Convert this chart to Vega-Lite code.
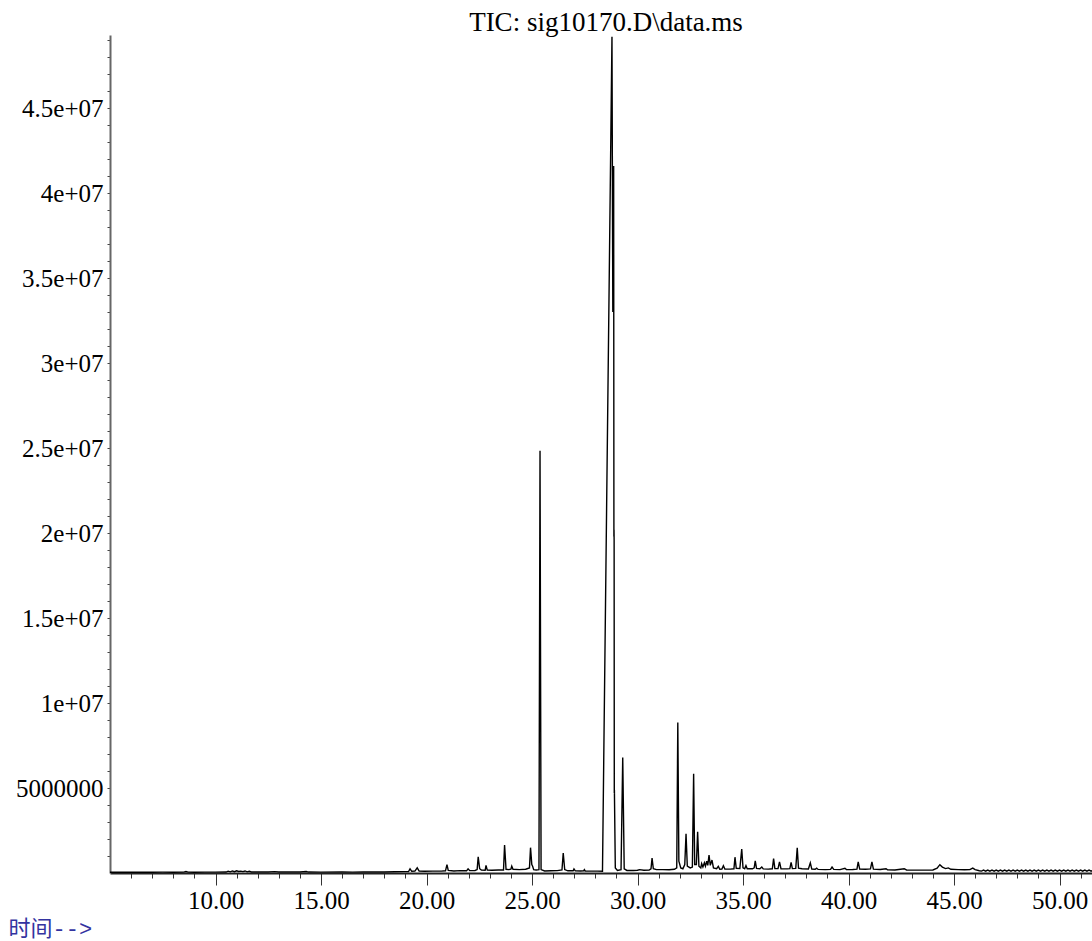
{
  "$schema": "https://vega.github.io/schema/vega-lite/v6.json",
  "width": 982,
  "height": 838,
  "autosize": {"type": "none"},
  "padding": {"left": 110, "top": 35, "right": 0, "bottom": 68},
  "background": "white",
  "title": {"text": "TIC: sig10170.D\\data.ms", "frame": "group", "font": "Liberation Serif", "fontSize": 27, "fontWeight": "normal", "color": "#000000", "anchor": "middle", "baseline": "alphabetic", "offset": 4, "dx": 5, "dy": 34},
  "config": {"view": {"stroke": null}},
  "data": {"values": [
    {"time": 5.0, "abundance": 40000}, {"time": 5.5, "abundance": 45000}, {"time": 6.0, "abundance": 40000}, {"time": 6.5, "abundance": 50000},
    {"time": 7.0, "abundance": 45000}, {"time": 7.5, "abundance": 50000}, {"time": 8.0, "abundance": 45000}, {"time": 8.5, "abundance": 50000},
    {"time": 8.6, "abundance": 90000}, {"time": 8.7, "abundance": 50000}, {"time": 9.0, "abundance": 45000}, {"time": 9.5, "abundance": 50000},
    {"time": 10.0, "abundance": 50000}, {"time": 10.5, "abundance": 55000}, {"time": 10.6, "abundance": 110000}, {"time": 10.7, "abundance": 70000},
    {"time": 10.8, "abundance": 120000}, {"time": 10.9, "abundance": 80000}, {"time": 11.0, "abundance": 130000}, {"time": 11.1, "abundance": 90000},
    {"time": 11.2, "abundance": 110000}, {"time": 11.3, "abundance": 80000}, {"time": 11.4, "abundance": 120000}, {"time": 11.5, "abundance": 70000},
    {"time": 11.6, "abundance": 100000}, {"time": 11.7, "abundance": 60000}, {"time": 12.0, "abundance": 55000}, {"time": 12.5, "abundance": 60000},
    {"time": 12.8, "abundance": 80000}, {"time": 13.0, "abundance": 55000}, {"time": 13.5, "abundance": 55000}, {"time": 14.0, "abundance": 60000},
    {"time": 14.3, "abundance": 90000}, {"time": 14.4, "abundance": 55000}, {"time": 15.0, "abundance": 50000}, {"time": 16.0, "abundance": 55000},
    {"time": 16.5, "abundance": 50000}, {"time": 17.0, "abundance": 55000}, {"time": 17.5, "abundance": 60000}, {"time": 18.0, "abundance": 55000},
    {"time": 18.5, "abundance": 70000}, {"time": 19.0, "abundance": 80000}, {"time": 19.15, "abundance": 90000}, {"time": 19.22, "abundance": 250000},
    {"time": 19.3, "abundance": 100000}, {"time": 19.45, "abundance": 110000}, {"time": 19.56, "abundance": 300000}, {"time": 19.65, "abundance": 110000},
    {"time": 19.9, "abundance": 100000}, {"time": 20.3, "abundance": 110000}, {"time": 20.7, "abundance": 110000}, {"time": 20.9, "abundance": 130000},
    {"time": 20.97, "abundance": 490000}, {"time": 21.03, "abundance": 150000}, {"time": 21.3, "abundance": 120000}, {"time": 21.6, "abundance": 140000},
    {"time": 21.9, "abundance": 130000}, {"time": 21.97, "abundance": 250000}, {"time": 22.05, "abundance": 140000}, {"time": 22.3, "abundance": 150000},
    {"time": 22.4, "abundance": 200000}, {"time": 22.45, "abundance": 950000}, {"time": 22.52, "abundance": 250000}, {"time": 22.6, "abundance": 170000},
    {"time": 22.78, "abundance": 160000}, {"time": 22.82, "abundance": 450000}, {"time": 22.88, "abundance": 170000}, {"time": 23.1, "abundance": 160000},
    {"time": 23.4, "abundance": 180000}, {"time": 23.65, "abundance": 180000}, {"time": 23.7, "abundance": 1650000}, {"time": 23.77, "abundance": 220000},
    {"time": 23.9, "abundance": 200000}, {"time": 24.0, "abundance": 230000}, {"time": 24.04, "abundance": 400000}, {"time": 24.1, "abundance": 220000},
    {"time": 24.4, "abundance": 200000}, {"time": 24.7, "abundance": 220000}, {"time": 24.88, "abundance": 300000}, {"time": 24.93, "abundance": 1490000},
    {"time": 24.99, "abundance": 500000}, {"time": 25.03, "abundance": 400000}, {"time": 25.08, "abundance": 200000}, {"time": 25.2, "abundance": 180000},
    {"time": 25.33, "abundance": 200000}, {"time": 25.38, "abundance": 24840000}, {"time": 25.43, "abundance": 200000}, {"time": 25.6, "abundance": 120000},
    {"time": 25.9, "abundance": 130000}, {"time": 26.2, "abundance": 140000}, {"time": 26.42, "abundance": 180000}, {"time": 26.48, "abundance": 1180000},
    {"time": 26.55, "abundance": 200000}, {"time": 26.7, "abundance": 130000}, {"time": 26.95, "abundance": 130000}, {"time": 26.99, "abundance": 240000},
    {"time": 27.05, "abundance": 130000}, {"time": 27.3, "abundance": 120000}, {"time": 27.45, "abundance": 130000}, {"time": 27.48, "abundance": 200000},
    {"time": 27.52, "abundance": 120000}, {"time": 27.8, "abundance": 110000}, {"time": 28.1, "abundance": 110000}, {"time": 28.34, "abundance": 100000},
    {"time": 28.79, "abundance": 49200000}, {"time": 28.83, "abundance": 33000000}, {"time": 28.87, "abundance": 41600000}, {"time": 28.882, "abundance": 19800000},
    {"time": 28.887, "abundance": 20200000}, {"time": 28.892, "abundance": 19600000}, {"time": 28.9, "abundance": 4700000}, {"time": 28.905, "abundance": 4900000},
    {"time": 28.948, "abundance": 300000}, {"time": 29.05, "abundance": 150000}, {"time": 29.22, "abundance": 200000}, {"time": 29.3, "abundance": 6800000},
    {"time": 29.37, "abundance": 250000}, {"time": 29.5, "abundance": 150000}, {"time": 29.8, "abundance": 150000}, {"time": 30.0, "abundance": 160000},
    {"time": 30.1, "abundance": 200000}, {"time": 30.3, "abundance": 160000}, {"time": 30.55, "abundance": 170000}, {"time": 30.64, "abundance": 250000},
    {"time": 30.69, "abundance": 880000}, {"time": 30.75, "abundance": 250000}, {"time": 30.9, "abundance": 200000}, {"time": 31.2, "abundance": 200000},
    {"time": 31.5, "abundance": 190000}, {"time": 31.75, "abundance": 220000}, {"time": 31.86, "abundance": 300000}, {"time": 31.91, "abundance": 8860000},
    {"time": 31.96, "abundance": 700000}, {"time": 32.05, "abundance": 300000}, {"time": 32.15, "abundance": 250000}, {"time": 32.24, "abundance": 500000},
    {"time": 32.3, "abundance": 2310000}, {"time": 32.36, "abundance": 400000}, {"time": 32.5, "abundance": 300000}, {"time": 32.6, "abundance": 350000},
    {"time": 32.66, "abundance": 5840000}, {"time": 32.71, "abundance": 500000}, {"time": 32.79, "abundance": 500000}, {"time": 32.85, "abundance": 2430000},
    {"time": 32.91, "abundance": 400000}, {"time": 33.0, "abundance": 300000}, {"time": 33.04, "abundance": 550000}, {"time": 33.1, "abundance": 350000},
    {"time": 33.17, "abundance": 600000}, {"time": 33.22, "abundance": 400000}, {"time": 33.28, "abundance": 700000}, {"time": 33.33, "abundance": 450000},
    {"time": 33.39, "abundance": 1050000}, {"time": 33.45, "abundance": 450000}, {"time": 33.53, "abundance": 760000}, {"time": 33.6, "abundance": 300000},
    {"time": 33.75, "abundance": 250000}, {"time": 33.83, "abundance": 390000}, {"time": 33.9, "abundance": 220000}, {"time": 34.0, "abundance": 230000},
    {"time": 34.07, "abundance": 430000}, {"time": 34.14, "abundance": 230000}, {"time": 34.4, "abundance": 230000}, {"time": 34.57, "abundance": 250000},
    {"time": 34.62, "abundance": 930000}, {"time": 34.68, "abundance": 280000}, {"time": 34.85, "abundance": 260000}, {"time": 34.94, "abundance": 1410000},
    {"time": 35.0, "abundance": 300000}, {"time": 35.08, "abundance": 250000}, {"time": 35.14, "abundance": 430000}, {"time": 35.2, "abundance": 250000},
    {"time": 35.45, "abundance": 250000}, {"time": 35.53, "abundance": 300000}, {"time": 35.58, "abundance": 720000}, {"time": 35.64, "abundance": 270000},
    {"time": 35.8, "abundance": 250000}, {"time": 35.89, "abundance": 350000}, {"time": 35.96, "abundance": 240000}, {"time": 36.2, "abundance": 230000},
    {"time": 36.39, "abundance": 250000}, {"time": 36.45, "abundance": 850000}, {"time": 36.51, "abundance": 260000}, {"time": 36.66, "abundance": 260000},
    {"time": 36.73, "abundance": 650000}, {"time": 36.8, "abundance": 250000}, {"time": 37.1, "abundance": 240000}, {"time": 37.22, "abundance": 260000},
    {"time": 37.28, "abundance": 630000}, {"time": 37.34, "abundance": 260000}, {"time": 37.5, "abundance": 270000}, {"time": 37.57, "abundance": 1480000},
    {"time": 37.63, "abundance": 280000}, {"time": 37.8, "abundance": 250000}, {"time": 38.1, "abundance": 240000}, {"time": 38.19, "abundance": 600000},
    {"time": 38.26, "abundance": 230000}, {"time": 38.42, "abundance": 220000}, {"time": 38.49, "abundance": 280000}, {"time": 38.56, "abundance": 210000},
    {"time": 38.9, "abundance": 200000}, {"time": 39.15, "abundance": 210000}, {"time": 39.22, "abundance": 350000}, {"time": 39.3, "abundance": 210000},
    {"time": 39.6, "abundance": 200000}, {"time": 39.83, "abundance": 280000}, {"time": 39.9, "abundance": 200000}, {"time": 40.2, "abundance": 210000},
    {"time": 40.4, "abundance": 230000}, {"time": 40.46, "abundance": 660000}, {"time": 40.53, "abundance": 230000}, {"time": 40.8, "abundance": 220000},
    {"time": 41.04, "abundance": 240000}, {"time": 41.11, "abundance": 660000}, {"time": 41.18, "abundance": 230000}, {"time": 41.5, "abundance": 210000},
    {"time": 41.78, "abundance": 250000}, {"time": 41.85, "abundance": 190000}, {"time": 42.2, "abundance": 180000}, {"time": 42.64, "abundance": 250000},
    {"time": 42.75, "abundance": 180000}, {"time": 43.2, "abundance": 170000}, {"time": 43.6, "abundance": 170000}, {"time": 44.0, "abundance": 180000},
    {"time": 44.2, "abundance": 280000}, {"time": 44.33, "abundance": 490000}, {"time": 44.45, "abundance": 350000}, {"time": 44.6, "abundance": 260000},
    {"time": 44.73, "abundance": 300000}, {"time": 44.85, "abundance": 220000}, {"time": 45.2, "abundance": 200000}, {"time": 45.5, "abundance": 190000},
    {"time": 45.75, "abundance": 200000}, {"time": 45.89, "abundance": 290000}, {"time": 46.0, "abundance": 200000}, {"time": 46.2, "abundance": 130000},
    {"time": 46.3, "abundance": 110000}, {"time": 46.4, "abundance": 170000}, {"time": 46.5, "abundance": 110000}, {"time": 46.6, "abundance": 170000},
    {"time": 46.7, "abundance": 110000}, {"time": 46.8, "abundance": 170000}, {"time": 46.9, "abundance": 110000}, {"time": 47.0, "abundance": 170000},
    {"time": 47.1, "abundance": 110000}, {"time": 47.2, "abundance": 170000}, {"time": 47.3, "abundance": 110000}, {"time": 47.4, "abundance": 170000},
    {"time": 47.5, "abundance": 110000}, {"time": 47.6, "abundance": 170000}, {"time": 47.7, "abundance": 110000}, {"time": 47.8, "abundance": 170000},
    {"time": 47.9, "abundance": 110000}, {"time": 48.0, "abundance": 170000}, {"time": 48.1, "abundance": 110000}, {"time": 48.2, "abundance": 170000},
    {"time": 48.3, "abundance": 110000}, {"time": 48.4, "abundance": 170000}, {"time": 48.5, "abundance": 110000}, {"time": 48.6, "abundance": 170000},
    {"time": 48.7, "abundance": 110000}, {"time": 48.8, "abundance": 170000}, {"time": 48.9, "abundance": 110000}, {"time": 49.0, "abundance": 170000},
    {"time": 49.1, "abundance": 110000}, {"time": 49.2, "abundance": 170000}, {"time": 49.3, "abundance": 110000}, {"time": 49.4, "abundance": 170000},
    {"time": 49.5, "abundance": 110000}, {"time": 49.6, "abundance": 170000}, {"time": 49.7, "abundance": 110000}, {"time": 49.8, "abundance": 170000},
    {"time": 49.9, "abundance": 110000}, {"time": 50.0, "abundance": 170000}, {"time": 50.1, "abundance": 110000}, {"time": 50.2, "abundance": 170000},
    {"time": 50.3, "abundance": 110000}, {"time": 50.4, "abundance": 170000}, {"time": 50.5, "abundance": 110000}, {"time": 50.6, "abundance": 170000},
    {"time": 50.7, "abundance": 110000}, {"time": 50.8, "abundance": 170000}, {"time": 50.9, "abundance": 110000}, {"time": 51.0, "abundance": 170000},
    {"time": 51.1, "abundance": 110000}, {"time": 51.2, "abundance": 170000}, {"time": 51.3, "abundance": 110000}, {"time": 51.4, "abundance": 170000},
    {"time": 51.5, "abundance": 110000}, {"time": 51.6, "abundance": 170000}
  ]},
  "mark": {"type": "line", "color": "#000000", "strokeWidth": 1.4, "clip": true},
  "encoding": {
    "x": {
      "field": "time", "type": "quantitative",
      "scale": {"domain": [5, 51.54], "nice": false, "zero": false},
      "axis": {
        "title": "时间-->",
        "titleFont": "Liberation Mono, Noto Sans CJK SC",
        "titleFontSize": 22, "titleFontWeight": "normal", "titleColor": "#3333a0",
        "titleAlign": "left", "titleAnchor": "start", "titleBaseline": "alphabetic",
        "titleX": -102, "titleY": 62,
        "values": [6,7,8,9,10,11,12,13,14,15,16,17,18,19,20,21,22,23,24,25,26,27,28,29,30,31,32,33,34,35,36,37,38,39,40,41,42,43,44,45,46,47,48,49,50,51],
        "grid": false,
        "domainColor": "#222222", "domainWidth": 2,
        "tickColor": "#333333", "tickWidth": 1,
        "tickSize": {"condition": {"test": "datum.value % 5 === 0", "value": 12}, "value": 5},
        "labelExpr": "datum.value % 5 === 0 ? format(datum.value, '.2f') : ''",
        "labelFont": "Liberation Serif", "labelFontSize": 25, "labelColor": "#000000",
        "labelPadding": 3, "labelBaseline": "top", "labelFlush": false, "labelOverlap": false
      }
    },
    "y": {
      "field": "abundance", "type": "quantitative",
      "scale": {"domain": [0, 49300000], "nice": false},
      "axis": {
        "title": null,
        "values": [1000000,2000000,3000000,4000000,5000000,6000000,7000000,8000000,9000000,10000000,11000000,12000000,13000000,14000000,15000000,16000000,17000000,18000000,19000000,20000000,21000000,22000000,23000000,24000000,25000000,26000000,27000000,28000000,29000000,30000000,31000000,32000000,33000000,34000000,35000000,36000000,37000000,38000000,39000000,40000000,41000000,42000000,43000000,44000000,45000000,46000000,47000000,48000000,49000000],
        "grid": false,
        "domainColor": "#666666", "domainWidth": 2,
        "tickColor": "#444444", "tickWidth": 1, "tickSize": 3,
        "labelExpr": "datum.value % 5000000 === 0 ? (datum.value < 10000000 ? format(datum.value, 'd') : replace(format(datum.value, '.2~e'), 'e+7', 'e+07')) : ''",
        "labelFont": "Liberation Serif", "labelFontSize": 25, "labelColor": "#000000",
        "labelPadding": 4, "labelBaseline": "middle", "labelFlush": false, "labelOverlap": false
      }
    }
  }
}
